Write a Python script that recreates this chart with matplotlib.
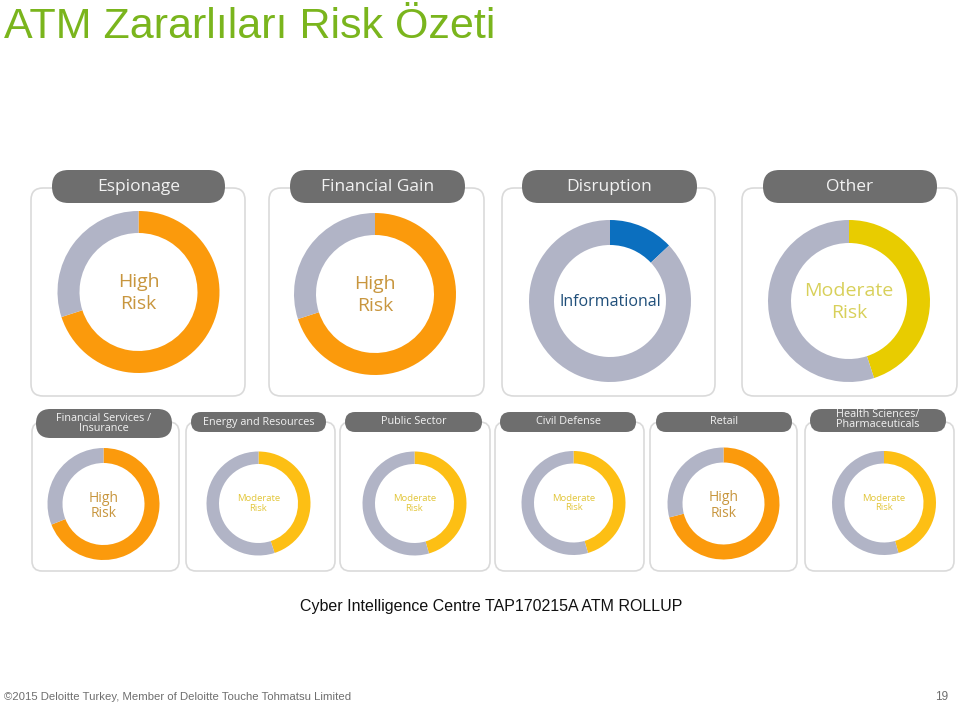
import matplotlib
matplotlib.use("Agg")
import matplotlib.pyplot as plt
from matplotlib.patches import FancyBboxPatch
from matplotlib import font_manager as fm

# ---------------- data ----------------
title = "ATM Zararlıları Risk Özeti"
big_titles = ["Espionage", "Financial Gain", "Disruption", "Other"]
big_share = [0.70, 0.70, 0.13, 0.45]
big_labels = ["High\nRisk", "High\nRisk", "Informational", "Moderate\nRisk"]
big_levels = ["high", "high", "info", "moderate_big"]

small_titles = ["Financial Services /\nInsurance", "Energy and Resources", "Public Sector",
                "Civil Defense", "Retail", "Health Sciences/\nPharmaceuticals"]
small_share = [0.69, 0.45, 0.455, 0.455, 0.71, 0.455]
small_labels = ["High\nRisk", "Moderate\nRisk", "Moderate\nRisk",
                "Moderate\nRisk", "High\nRisk", "Moderate\nRisk"]
small_levels = ["high", "moderate", "moderate", "moderate", "high", "moderate"]

caption = "Cyber Intelligence Centre TAP170215A ATM ROLLUP"
footer = "©2015 Deloitte Turkey, Member of Deloitte Touche Tohmatsu Limited"
page_no = "19"

# ---------------- styles ----------------
ring_color = {"high": "#fb9a0c", "moderate": "#fdbf14", "moderate_big": "#e8cc00", "info": "#0b6fbf"}
text_color = {"high": "#c8963e", "moderate": "#e2c63a", "moderate_big": "#d8d05a", "info": "#1f4e79"}
gray = "#b1b4c6"
pill_color = "#6e6e6e"
card_edge = "#dadada"

names = {f.name for f in fm.fontManager.ttflist}
narrow = "Liberation Sans Narrow" if "Liberation Sans Narrow" in names else "Liberation Sans"
ui = "Open Sans"

W, H = 960, 705
fig = plt.figure(figsize=(W / 100, H / 100), dpi=100)
ax = fig.add_axes([0, 0, 1, 1])

def Y(y):
    return H - y

def card(x0, x1, y0, y1, r=12):
    p = FancyBboxPatch((x0 + r, Y(y1) + r), (x1 - x0) - 2 * r, (y1 - y0) - 2 * r,
                       boxstyle=f"round,pad={r}", fc="white", ec=card_edge, lw=1.2, zorder=1)
    ax.add_patch(p)

def pill(x0, x1, y0, y1):
    h = y1 - y0
    r = h / 2
    p = FancyBboxPatch((x0 + r, Y(y1) + r), (x1 - x0) - 2 * r, 0.0001,
                       boxstyle=f"round,pad={r}", fc=pill_color, ec="none", zorder=2)
    ax.add_patch(p)

def donut(cx, cy, r_out, width, share, level):
    ax.pie([share, 1 - share], colors=[ring_color[level], gray], startangle=90,
           counterclock=False, center=(cx, Y(cy)), radius=r_out, frame=True,
           wedgeprops=dict(width=width, edgecolor="none", linewidth=0, zorder=3))

# ---------------- big panels ----------------
big_cards = [(31, 245), (269, 484), (502, 715), (742, 957)]
big_pills = [(52, 225), (290, 465), (522, 697), (763, 937)]
big_centers = [(138.5, 292), (375, 294), (610, 301), (849, 301)]
big_width = [22, 22, 25, 23]

for i in range(4):
    x0, x1 = big_cards[i]
    card(x0, x1, 188, 396)
    px0, px1 = big_pills[i]
    pill(px0, px1, 170, 203)
    ax.text((px0 + px1) / 2, Y(187), big_titles[i], ha="center", va="center",
            fontsize=12.5, color="#f2f2f2", family=ui, zorder=4)
    cx, cy = big_centers[i]
    donut(cx, cy, 81, big_width[i], big_share[i], big_levels[i])
    lv = big_levels[i]
    fs = 11.5 if lv == "info" else 14
    ax.text(cx, Y(cy) - 1, big_labels[i], ha="center", va="center", fontsize=fs,
            color=text_color[lv], family=ui, linespacing=1.3, zorder=4)

# ---------------- small panels ----------------
small_cards = [(32, 179), (186, 335), (340, 490), (495, 644), (650, 797), (805, 954)]
small_pills = [(36, 172), (191, 326), (345, 482), (500, 636), (656, 792), (810, 946)]
small_centers = [(103.5, 504), (258.5, 503.5), (414.5, 503.5), (573.5, 503), (723.5, 503.5), (884, 503)]
small_radius = [56, 52, 52, 52, 56, 52]
small_width = [15, 12.5, 12.5, 12.5, 15, 12.5]

for i in range(6):
    x0, x1 = small_cards[i]
    card(x0, x1, 422, 571, r=10)
    px0, px1 = small_pills[i]
    two = "\n" in small_titles[i]
    if i == 0:
        pill(px0, px1, 409, 438)
        ty = 423.5
    elif two:
        pill(px0, px1, 409, 432)
        ty = 419.5
    else:
        pill(px0, px1, 412, 432)
        ty = 422
    ax.text((px0 + px1) / 2, Y(ty), small_titles[i], ha="center", va="center",
            fontsize=7.8, color="#f2f2f2", family=ui, linespacing=0.95, zorder=4)
    cx, cy = small_centers[i]
    donut(cx, cy, small_radius[i], small_width[i], small_share[i], small_levels[i])
    lv = small_levels[i]
    fs = 10 if lv == "high" else 6.8
    dy = -2 if lv == "high" else 0
    ax.text(cx, Y(cy) + dy, small_labels[i], ha="center", va="center", fontsize=fs,
            color=text_color[lv], family=ui, linespacing=1.05, zorder=4)

# ---------------- texts ----------------
ax.text(4, Y(38), title, ha="left", va="baseline", fontsize=31, color="#7ab51d",
        family="Liberation Sans")
ax.text(491, Y(606), caption, ha="center", va="center", fontsize=11.5, color="#111111",
        family=narrow)
ax.text(4, Y(697), footer, ha="left", va="center", fontsize=8.2, color="#6e6e6e",
        family=narrow)
ax.text(948, Y(697), page_no, ha="right", va="center", fontsize=8.5, color="#6e6e6e",
        family=narrow)

ax.set_xlim(0, W)
ax.set_ylim(0, H)
ax.set_aspect("equal")
ax.axis("off")
fig.savefig("out.png", dpi=100, facecolor="white")
